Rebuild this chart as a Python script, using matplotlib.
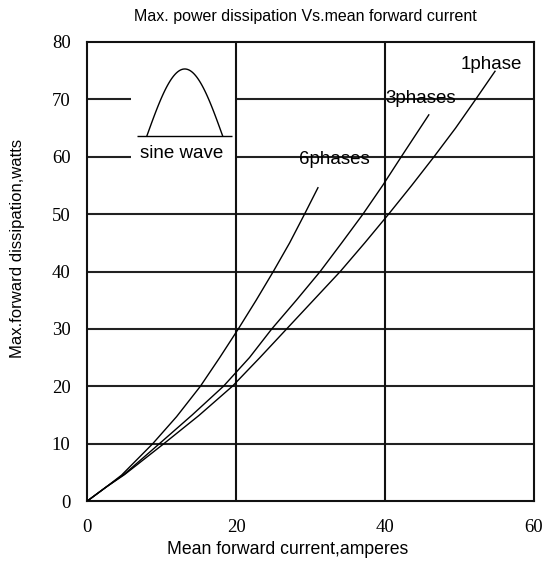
import numpy as np
import matplotlib
matplotlib.use('Agg')
import matplotlib.pyplot as plt

# curves (mean forward current A, max dissipation W)
x_1phase = [0, 2.5, 5, 10.3, 15, 19.5, 23.2, 26.8, 30.4, 34.0, 37.3, 40.5, 43.6, 46.6, 49.5, 52.2, 54.8]
y_1phase = [0, 2.4, 4.6, 10, 14.9, 20, 25, 30, 35, 40, 45, 50, 55, 60, 65, 70, 74.9]

x_3phases = [0, 2.5, 5, 9.7, 14.1, 18.3, 21.8, 24.8, 28.1, 31.3, 34.2, 37.05, 39.7, 42.2, 45.9]
y_3phases = [0, 2.4, 4.7, 10, 15, 20, 25, 30, 35, 40, 45, 50, 55, 60, 67.3]

x_6phases = [0, 2.5, 4.6, 8.8, 12, 15.2, 17.8, 20.3, 22.7, 25.0, 27.2, 29.2, 31]
y_6phases = [0, 2.4, 4.5, 10, 14.7, 20, 25, 30, 35, 40, 45, 50, 54.6]

curve_labels = ['1phase', '3phases', '6phases']
label_pos = [(50.2, 76.0), (40.1, 70.1), (28.45, 59.5)]

x_ticks = [0, 20, 40, 60]
y_ticks = [0, 10, 20, 30, 40, 50, 60, 70, 80]

sans = 'Liberation Sans'
serif = 'Liberation Serif'

fig = plt.figure(figsize=(5.44, 5.69), dpi=100)
ax = fig.add_axes([87.3 / 544, 1 - 501 / 569, (533.7 - 87.3) / 544, (501 - 42) / 569])
ax.set_xlim(0, 60)
ax.set_ylim(0, 80)

# grid, with the gap left for the sine wave sketch
gap = (5.85, 20)
for yv in y_ticks[1:-1]:
    if yv in (60, 70):
        ax.hlines(yv, 0, gap[0], color='#222222', lw=1.5, zorder=1)
        ax.hlines(yv, gap[1], 60, color='#222222', lw=1.5, zorder=1)
    else:
        ax.hlines(yv, 0, 60, color='#222222', lw=1.5, zorder=1)
for xv in x_ticks[1:-1]:
    ax.vlines(xv, 0, 80, color='#111111', lw=1.5, zorder=1)

for s in ax.spines.values():
    s.set_linewidth(1.5)
    s.set_color('#111111')

ax.plot(x_1phase, y_1phase, color='black', lw=1.0, zorder=3)
ax.plot(x_3phases, y_3phases, color='black', lw=1.0, zorder=3)
ax.plot(x_6phases, y_6phases, color='black', lw=1.0, zorder=3)

for lab, (lx, ly) in zip(curve_labels, label_pos):
    ax.text(lx, ly, lab, fontsize=13.5, family=sans, ha='left', va='center', zorder=4)

# sine wave sketch
t = np.linspace(0, np.pi, 60)
ax.plot(8.0 + 10.2 * t / np.pi, 63.6 + 11.7 * np.sin(t), color='black', lw=1.0)
ax.hlines(63.6, 6.7, 19.5, color='black', lw=1.0)
ax.text(7.1, 60.5, 'sine wave', fontsize=13.5, family=sans, ha='left', va='center')

ax.set_xticks(x_ticks)
ax.set_yticks(y_ticks)
ax.tick_params(length=0, labelsize=13.5)
ax.tick_params(axis='x', pad=13)
ax.tick_params(axis='y', pad=12)
for lbl in ax.get_xticklabels() + ax.get_yticklabels():
    lbl.set_family(serif)

fig.text(305 / 544, 1 - 17 / 569, 'Max. power dissipation Vs.mean forward current',
         fontsize=11.5, family=sans, ha='center', va='center')
fig.text(288 / 544, 1 - 549 / 569, 'Mean forward current,amperes',
         fontsize=12.7, family=sans, ha='center', va='center')
fig.text(18 / 544, 1 - 248 / 569, 'Max.forward dissipation,watts',
         fontsize=12, family=sans, ha='center', va='center', rotation=90)

fig.savefig('out.png', dpi=100)
